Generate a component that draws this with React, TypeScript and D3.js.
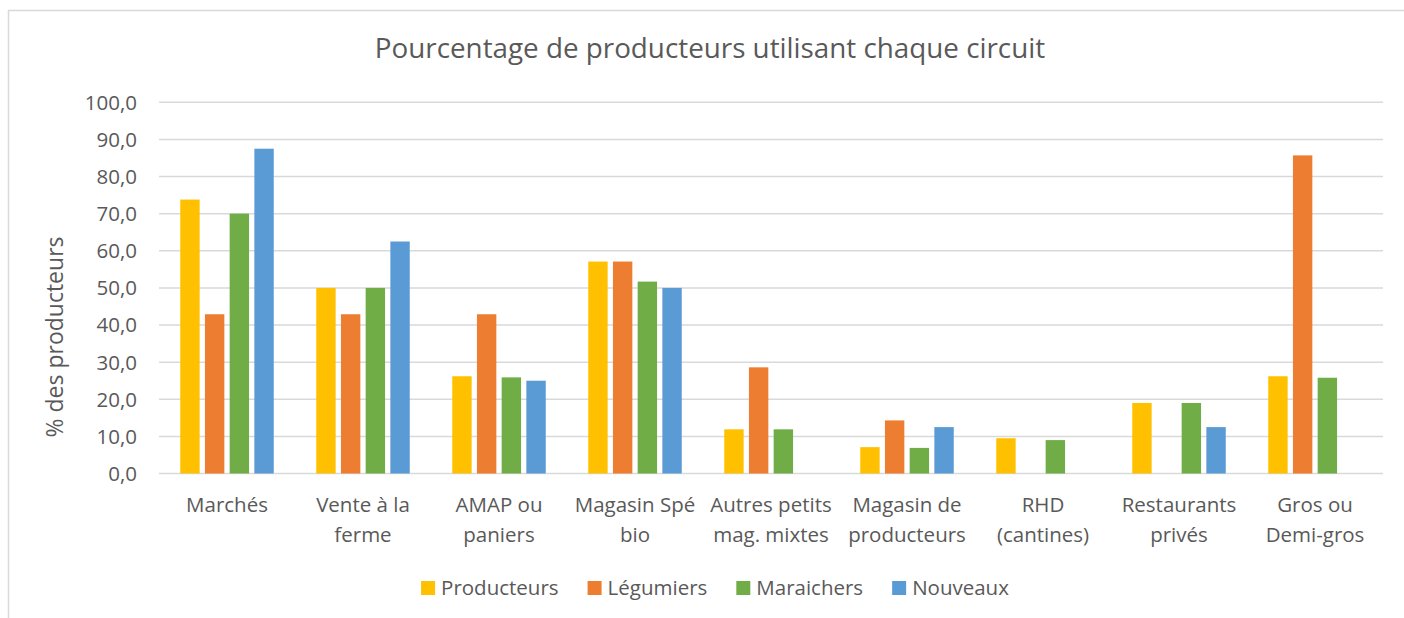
import React from "react";
import * as d3 from "d3";

// circuits de vente
const categories = [
  "Marchés",
  "Vente à la\nferme",
  "AMAP ou\npaniers",
  "Magasin Spé\nbio",
  "Autres petits\nmag. mixtes",
  "Magasin de\nproducteurs",
  "RHD\n(cantines)",
  "Restaurants\nprivés",
  "Gros ou\nDemi-gros",
];

const seriesNames = ["Producteurs", "Légumiers", "Maraichers", "Nouveaux"];
const seriesColors = ["#FFC000", "#ED7D31", "#70AD47", "#5B9BD5"];

const producteurs = [73.8, 50.0, 26.2, 57.1, 11.9, 7.1, 9.5, 19.0, 26.2];
const legumiers = [42.9, 42.9, 42.9, 57.1, 28.6, 14.3, 0, 0, 85.7];
const maraichers = [70.0, 50.0, 25.9, 51.7, 11.9, 6.9, 9.0, 19.0, 25.8];
const nouveaux = [87.5, 62.5, 25.0, 50.0, 0, 12.5, 0, 12.5, 0];

const yTicks = [0, 10, 20, 30, 40, 50, 60, 70, 80, 90, 100];

const title = "Pourcentage de producteurs utilisant chaque circuit";
const yTitle = "% des producteurs";

const FONT = "'Open Sans', 'DejaVu Sans', sans-serif";
const TEXT = "#595959";
const GRID = "#d9d9d9";

const W = 1404;
const H = 618;
const plot = { left: 159, right: 1383, top: 102.3, bottom: 473.5 };

const frFormat = d3.formatLocale({
  decimal: ",",
  thousands: " ",
  grouping: [3],
  currency: ["", " €"],
}).format(".1f");

function measure(text: string, size: number) {
  const ctx = document.createElement("canvas").getContext("2d");
  if (!ctx) return text.length * size * 0.52;
  ctx.font = `${size}px 'Open Sans'`;
  return ctx.measureText(text).width;
}

export default function App() {
  const seriesValues = [producteurs, legumiers, maraichers, nouveaux];

  const x0 = d3.scaleBand<string>().domain(categories).range([plot.left, plot.right]);
  const x1 = d3
    .scaleBand<string>()
    .domain(seriesNames)
    .range([0, x0.bandwidth()])
    .paddingInner(0.215)
    .paddingOuter(0.86);
  const y = d3.scaleLinear().domain([0, 100]).range([plot.bottom, plot.top]);

  // legend layout, centred under the chart
  const legendSize = 20.5;
  const swatch = 14;
  const items = seriesNames.map((name) => ({ name, w: measure(name, legendSize) }));
  const gapText = 6;
  const gapItem = 29;
  const totalW =
    d3.sum(items, (d) => swatch + gapText + d.w) + gapItem * (items.length - 1);
  let cursor = 715 - totalW / 2;
  const legendPos = items.map((d) => {
    const pos = cursor;
    cursor += swatch + gapText + d.w + gapItem;
    return pos;
  });

  return (
    <div style={{ position: "fixed", left: 0, top: 0, width: W, height: H, overflow: "hidden" }}>
      <svg width={W} height={H} style={{ display: "block", background: "#fff" }} fontFamily={FONT}>
        <rect x={8.5} y={10.5} width={W + 60} height={H + 60} fill="#fff" stroke={GRID} strokeWidth={1.5} />

        <text x={710} y={58} textAnchor="middle" fontSize={27.8} fill={TEXT}>
          {title}
        </text>

        {/* grid + y ticks */}
        {yTicks.map((t) => (
          <g key={t}>
            <line
              x1={plot.left}
              x2={plot.right}
              y1={y(t)}
              y2={y(t)}
              stroke={GRID}
              strokeWidth={1.5}
            />
            <text
              x={137}
              y={y(t)}
              dy="0.36em"
              textAnchor="end"
              fontSize={20.5}
              fill={TEXT}
            >
              {frFormat(t)}
            </text>
          </g>
        ))}

        <text
          transform={`translate(63,337) rotate(-90)`}
          textAnchor="middle"
          fontSize={23}
          fill={TEXT}
        >
          {yTitle}
        </text>

        {/* bars */}
        {categories.map((c, i) => (
          <g key={c} transform={`translate(${x0(c)},0)`}>
            {seriesNames.map((s, j) => {
              const v = seriesValues[j][i];
              if (!v) return null;
              return (
                <rect
                  key={s}
                  x={x1(s)}
                  y={y(v)}
                  width={x1.bandwidth()}
                  height={y(0) - y(v)}
                  fill={seriesColors[j]}
                />
              );
            })}
          </g>
        ))}

        {/* category labels */}
        {categories.map((c) => (
          <text
            key={c}
            x={(x0(c) ?? 0) + x0.bandwidth() / 2}
            y={512}
            textAnchor="middle"
            fontSize={20.5}
            fill={TEXT}
          >
            {c.split("\n").map((line, k) => (
              <tspan key={k} x={(x0(c) ?? 0) + x0.bandwidth() / 2} dy={k === 0 ? 0 : 29.5}>
                {line}
              </tspan>
            ))}
          </text>
        ))}

        {/* legend */}
        {items.map((d, i) => (
          <g key={d.name} transform={`translate(${legendPos[i]},581)`}>
            <rect width={swatch} height={swatch} fill={seriesColors[i]} />
            <text x={swatch + gapText} y={13.5} fontSize={legendSize} fill={TEXT}>
              {d.name}
            </text>
          </g>
        ))}
      </svg>
    </div>
  );
}
